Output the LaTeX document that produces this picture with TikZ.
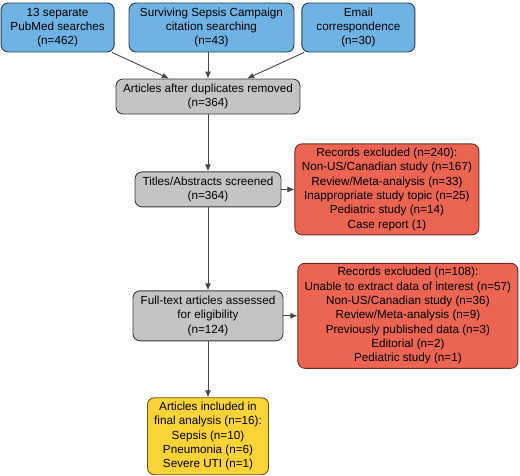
\documentclass[tikz,border=0pt]{standalone}
\usepackage{fontspec}
\setmainfont{Liberation Sans}
\usetikzlibrary{shapes.geometric, arrows, arrows.meta, positioning, calc}
\definecolor{srcblue}{RGB}{111,178,228}
\definecolor{boxgray}{RGB}{196,196,196}
\definecolor{exclred}{RGB}{236,100,82}
\definecolor{inclyellow}{RGB}{250,211,55}
\definecolor{linegray}{RGB}{70,70,70}
\tikzstyle{box} = [rectangle, rounded corners=7pt, align=center, inner xsep=2pt, inner ysep=1pt, line width=0.9pt, font=\fontsize{11.7}{14.3}\selectfont]
\tikzstyle{source} = [box, draw=srcblue!35!black, fill=srcblue, minimum height=49pt]
\tikzstyle{process} = [box, draw=boxgray!30!black, fill=boxgray]
\tikzstyle{excluded} = [box, draw=exclred!45!black, fill=exclred]
\tikzstyle{included} = [box, draw=inclyellow!40!black, fill=inclyellow]
\tikzstyle{arrow} = [line width=0.9pt, draw=linegray, -{Latex[length=7pt,width=6pt]}]

\begin{document}
\begin{tikzpicture}[x=1pt, y=1pt]
\useasboundingbox (0,0) rectangle (520,-475);

% Sources
\node (src2) [source, minimum width=165pt] at (211.5,-27.5) {Surviving Sepsis Campaign \\ citation searching \\ (n=43)};
\node (src1) [source, minimum width=113pt, left=14pt of src2] {13 separate \\ PubMed searches \\ (n=462)};
\node (src3) [source, minimum width=113pt, right=7pt of src2] {Email \\ correspondence \\ (n=30)};

% Screening
\node (dedup) [process, minimum width=184pt, minimum height=35pt] at (208,-96.5) {Articles after duplicates removed \\ (n=364)};
\node (screen) [process, minimum width=146pt, minimum height=35pt, below=57pt of dedup] {Titles/Abstracts screened \\ (n=364)};
\node (excl1) [excluded, minimum width=184pt, minimum height=91pt, right=13pt of screen] {Records excluded (n=240): \\ Non-US/Canadian study (n=167) \\ Review/Meta-analysis (n=33) \\ Inappropriate study topic (n=25) \\ Pediatric study (n=14) \\ Case report (1)};

% Eligibility
\node (full) [process, minimum width=150pt, minimum height=50pt, below=83pt of screen] {Full-text articles assessed \\ for eligibility \\ (n=124)};
\node (excl2) [excluded, minimum width=220pt, minimum height=105pt, right=14pt of full] {Records excluded (n=108): \\ Unable to extract data of interest (n=57) \\ Non-US/Canadian study (n=36) \\ Review/Meta-analysis (n=9) \\ Previously published data (n=3) \\ Editorial (n=2) \\ Pediatric study (n=1)};

% Included
\node (incl) [included, minimum width=121pt, minimum height=77pt, below=56pt of full] {Articles included in \\ final analysis (n=16): \\ Sepsis (n=10) \\ Pneumonia (n=6) \\ Severe UTI (n=1)};

% Arrows
\draw [arrow] (src1) -- (dedup);
\draw [arrow] (src2.south -| dedup) -- (dedup);
\draw [arrow] (src3) -- (dedup);
\draw [arrow] (dedup) -- (screen);
\draw [arrow] (screen) -- (excl1);
\draw [arrow] (screen) -- (full);
\draw [arrow] (full) -- (excl2);
\draw [arrow] (full) -- (incl);

\end{tikzpicture}
\end{document}
